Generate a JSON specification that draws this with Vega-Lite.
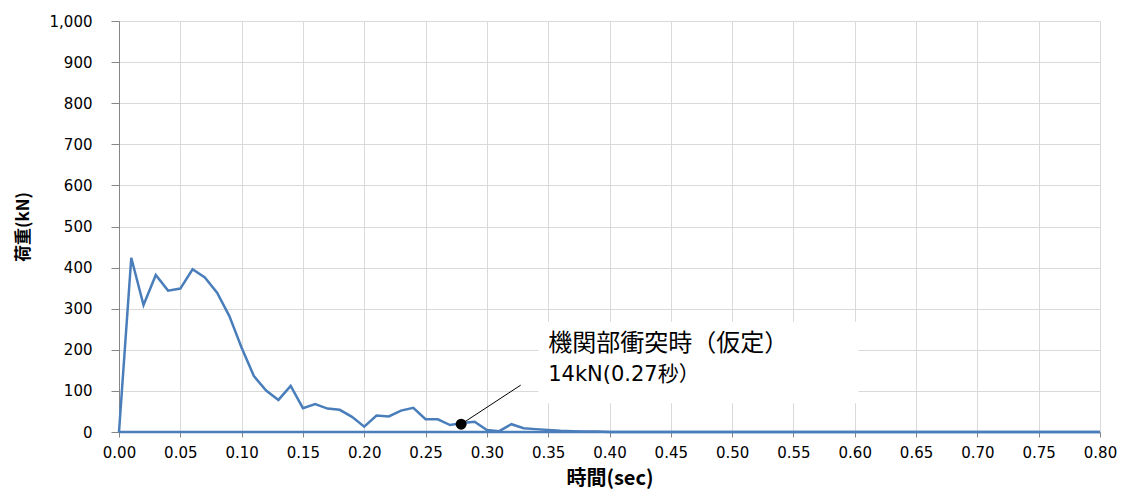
{
  "$schema": "https://vega.github.io/schema/vega-lite/v6.json",
  "width": 981,
  "height": 411,
  "autosize": {"type": "none"},
  "padding": {"left": 119, "top": 21, "right": 23, "bottom": 62},
  "background": "white",
  "config": {
    "view": {"stroke": null},
    "axis": {"labelFont": "DejaVu Sans", "labelFontSize": 15, "labelColor": "#000000", "titleFont": "Noto Sans CJK JP", "titleFontSize": 17, "titleFontWeight": "bold", "titleColor": "#000000", "gridColor": "#d9d9d9", "gridWidth": 1, "domainColor": "#868686", "tickColor": "#868686"}
  },
  "datasets": {
    "load": [
      {"t": 0.00, "kN": 0}, {"t": 0.01, "kN": 424}, {"t": 0.02, "kN": 309}, {"t": 0.03, "kN": 382},
      {"t": 0.04, "kN": 344}, {"t": 0.05, "kN": 349}, {"t": 0.06, "kN": 396}, {"t": 0.07, "kN": 376},
      {"t": 0.08, "kN": 339}, {"t": 0.09, "kN": 282}, {"t": 0.10, "kN": 205}, {"t": 0.11, "kN": 136},
      {"t": 0.12, "kN": 101}, {"t": 0.13, "kN": 78}, {"t": 0.14, "kN": 112}, {"t": 0.15, "kN": 58},
      {"t": 0.16, "kN": 68}, {"t": 0.17, "kN": 57}, {"t": 0.18, "kN": 54}, {"t": 0.19, "kN": 37},
      {"t": 0.20, "kN": 13}, {"t": 0.21, "kN": 40}, {"t": 0.22, "kN": 38}, {"t": 0.23, "kN": 52},
      {"t": 0.24, "kN": 59}, {"t": 0.25, "kN": 31}, {"t": 0.26, "kN": 31}, {"t": 0.27, "kN": 17},
      {"t": 0.28, "kN": 22}, {"t": 0.29, "kN": 25}, {"t": 0.30, "kN": 5}, {"t": 0.31, "kN": 2},
      {"t": 0.32, "kN": 19}, {"t": 0.33, "kN": 9}, {"t": 0.34, "kN": 7}, {"t": 0.35, "kN": 5},
      {"t": 0.36, "kN": 3}, {"t": 0.37, "kN": 2}, {"t": 0.38, "kN": 1}, {"t": 0.39, "kN": 1},
      {"t": 0.40, "kN": 0}, {"t": 0.80, "kN": 0}
    ],
    "base": [{"t": 0.0, "kN": 0}, {"t": 0.8, "kN": 0}],
    "box": [{"x1": 0.342, "x2": 0.603, "y1": 70, "y2": 268}],
    "leader": [{"t": 0.279, "kN": 19, "t2": 0.3276, "kN2": 114}],
    "marker": [{"t": 0.279, "kN": 19}],
    "label1": [{"t": 0.35, "kN": 213, "text": "機関部衝突時（仮定）"}],
    "label2": [{"t": 0.35, "kN": 138, "text": "14kN(0.27秒）"}]
  },
  "layer": [
    {
      "data": {"name": "box"},
      "mark": {"type": "rect", "fill": "white", "stroke": null},
      "encoding": {
        "x": {"field": "x1", "type": "quantitative", "scale": {"domain": [0, 0.8]},
          "axis": {"title": "時間(sec)", "titleFontSize": 20, "values": [0,0.05,0.1,0.15,0.2,0.25,0.3,0.35,0.4,0.45,0.5,0.55,0.6,0.65,0.7,0.75,0.8], "format": ".2f", "tickSize": 5, "labelPadding": 8, "titlePadding": 8, "labelFlush": false}},
        "x2": {"field": "x2"},
        "y": {"field": "y1", "type": "quantitative", "scale": {"domain": [0, 1000]},
          "axis": {"title": "荷重(kN)", "values": [0,100,200,300,400,500,600,700,800,900,1000], "format": ",d", "tickSize": 8, "labelPadding": 19, "titlePadding": 17}},
        "y2": {"field": "y2"}
      }
    },
    {
      "data": {"name": "base"},
      "mark": {"type": "line", "color": "#4a7ebb", "strokeWidth": 2.5},
      "encoding": {
        "x": {"field": "t", "type": "quantitative"},
        "y": {"field": "kN", "type": "quantitative"}
      }
    },
    {
      "data": {"name": "load"},
      "mark": {"type": "line", "color": "#4a7ebb", "strokeWidth": 2.5},
      "encoding": {
        "x": {"field": "t", "type": "quantitative"},
        "y": {"field": "kN", "type": "quantitative"}
      }
    },
    {
      "data": {"name": "leader"},
      "mark": {"type": "rule", "color": "#000000", "strokeWidth": 1},
      "encoding": {
        "x": {"field": "t", "type": "quantitative"},
        "y": {"field": "kN", "type": "quantitative"},
        "x2": {"field": "t2"},
        "y2": {"field": "kN2"}
      }
    },
    {
      "data": {"name": "marker"},
      "mark": {"type": "point", "filled": true, "color": "#000000", "size": 120, "opacity": 1},
      "encoding": {
        "x": {"field": "t", "type": "quantitative"},
        "y": {"field": "kN", "type": "quantitative"}
      }
    },
    {
      "data": {"name": "label1"},
      "mark": {"type": "text", "align": "left", "baseline": "middle", "font": "Noto Sans CJK JP", "fontSize": 24, "color": "#000000"},
      "encoding": {
        "x": {"field": "t", "type": "quantitative"},
        "y": {"field": "kN", "type": "quantitative"},
        "text": {"field": "text"}
      }
    },
    {
      "data": {"name": "label2"},
      "mark": {"type": "text", "align": "left", "baseline": "middle", "font": "DejaVu Sans, Noto Sans CJK JP", "fontSize": 21, "color": "#000000"},
      "encoding": {
        "x": {"field": "t", "type": "quantitative"},
        "y": {"field": "kN", "type": "quantitative"},
        "text": {"field": "text"}
      }
    }
  ]
}
